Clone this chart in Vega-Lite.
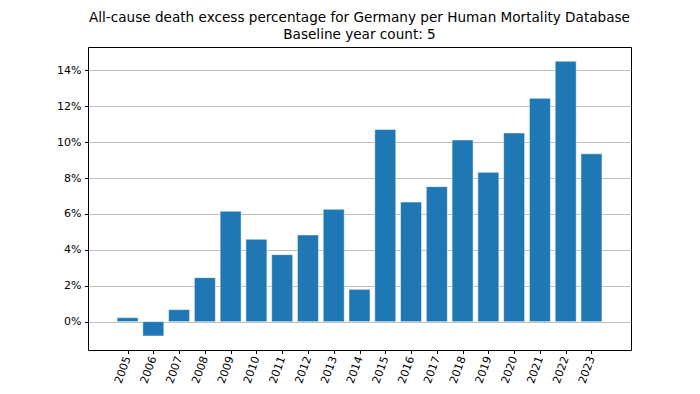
{
  "$schema": "https://vega.github.io/schema/vega-lite/v6.json",
  "width": 543,
  "height": 303,
  "autosize": {"type": "none"},
  "padding": {"left": 88, "top": 47, "right": 69, "bottom": 44},
  "background": "white",
  "title": {
    "text": ["All-cause death excess percentage for Germany per Human Mortality Database", "Baseline year count: 5"],
    "font": "DejaVu Sans",
    "fontSize": 13.6,
    "fontWeight": "normal",
    "color": "black",
    "lineHeight": 17,
    "offset": 5,
    "anchor": "middle"
  },
  "config": {
    "view": {"stroke": "black", "strokeWidth": 1},
    "axis": {
      "labelFont": "DejaVu Sans",
      "labelFontSize": 11,
      "labelColor": "black",
      "tickColor": "black",
      "domain": false,
      "tickSize": 3.5,
      "titleFontSize": 0
    }
  },
  "data": {
    "values": [
      {"year": 2005, "excess": 0.0022},
      {"year": 2006, "excess": -0.0080},
      {"year": 2007, "excess": 0.0067},
      {"year": 2008, "excess": 0.0245},
      {"year": 2009, "excess": 0.0615},
      {"year": 2010, "excess": 0.0459},
      {"year": 2011, "excess": 0.0373},
      {"year": 2012, "excess": 0.0483},
      {"year": 2013, "excess": 0.0626},
      {"year": 2014, "excess": 0.0180},
      {"year": 2015, "excess": 0.1071},
      {"year": 2016, "excess": 0.0666},
      {"year": 2017, "excess": 0.0752},
      {"year": 2018, "excess": 0.1012},
      {"year": 2019, "excess": 0.0832},
      {"year": 2020, "excess": 0.1051},
      {"year": 2021, "excess": 0.1244},
      {"year": 2022, "excess": 0.1451},
      {"year": 2023, "excess": 0.0935}
    ]
  },
  "mark": {"type": "bar", "color": "#1f77b4", "size": 21, "stroke": "white", "strokeWidth": 0.5},
  "encoding": {
    "x": {
      "field": "year",
      "type": "quantitative",
      "scale": {"domain": [2003.66, 2024.34], "nice": false, "zero": false},
      "axis": {
        "title": null,
        "values": [2005, 2006, 2007, 2008, 2009, 2010, 2011, 2012, 2013, 2014, 2015, 2016, 2017, 2018, 2019, 2020, 2021, 2022, 2023],
        "format": "d",
        "grid": false,
        "labelAngle": -70,
        "labelAlign": "right",
        "labelBaseline": "middle",
        "labelPadding": 3,
        "labelFlush": false,
        "labelOverlap": false
      }
    },
    "y": {
      "field": "excess",
      "type": "quantitative",
      "scale": {"domain": [-0.0158, 0.153], "nice": false, "zero": false},
      "axis": {
        "title": null,
        "values": [0, 0.02, 0.04, 0.06, 0.08, 0.1, 0.12, 0.14],
        "format": ".0%",
        "grid": true,
        "gridColor": "#b0b0b0",
        "gridWidth": 0.8,
        "labelPadding": 3.5
      }
    }
  }
}
